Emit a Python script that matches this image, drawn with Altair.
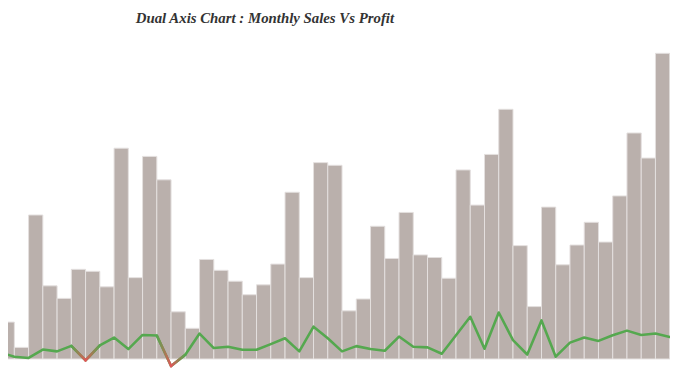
import altair as alt
import pandas as pd

# 48 months (4 years)
months = [f"{y}-{m:02d}" for y in (2011, 2012, 2013, 2014) for m in range(1, 13)]

sales = [3730, 1170, 14570, 7400, 6130, 9070, 8870, 7300,
         21330, 8230, 20500, 18130, 4770, 3100, 10070, 8970,
         7870, 6500, 7500, 9600, 16870, 8230, 19870, 19600,
         4870, 6070, 13430, 10170, 14830, 10530, 10270, 8170,
         19130, 15570, 20700, 25270, 11470, 5300, 15370, 9530,
         11530, 13830, 11830, 16500, 22870, 20330, 30930, 21870]

profit = [680, 220, 100, 950, 770, 1330, -150, 1370,
          2170, 1000, 2430, 2370, -720, 430, 2570, 1100,
          1230, 930, 930, 1500, 2100, 770, 3270, 2100,
          770, 1300, 1000, 830, 2270, 1230, 1170, 530,
          2400, 4270, 1030, 4700, 1900, 450, 3900, 230,
          1650, 2170, 1830, 2400, 2870, 2430, 2570, 2230]

BAR = "#bab0ac"
BAR_STROKE = "#e4e0de"
GREEN = "#55a84f"
RED = "#e15759"

df = pd.DataFrame({"month": months, "idx": list(range(len(months))),
                   "sales": sales, "profit": profit})
df["idx_end"] = df["idx"] + 1

down_rows, up_rows = [], []
for i in range(len(profit) - 1):
    if profit[i + 1] < 0 <= profit[i]:
        for j in (i, i + 1):
            down_rows.append({"seg": i, "idx": j, "profit": profit[j]})
    if profit[i] < 0 <= profit[i + 1]:
        for j in (i, i + 1):
            up_rows.append({"seg": i, "idx": j, "profit": profit[j]})
df_down = pd.DataFrame(down_rows)
df_up = pd.DataFrame(up_rows)

xscale = alt.Scale(domain=[0.555, 47.02], nice=False, zero=False)
yscale = alt.Scale(domain=[-1200, 32300], nice=False, zero=False)

bars = alt.Chart(df).mark_rect(color=BAR, stroke=BAR_STROKE, strokeWidth=1, clip=True).encode(
    x=alt.X("idx:Q", scale=xscale, axis=None),
    x2="idx_end:Q",
    y=alt.Y("sales:Q", scale=yscale, axis=None),
    y2=alt.datum(0),
)

line = alt.Chart(df).mark_line(color=GREEN, strokeWidth=2.6, strokeJoin="round",
                               strokeCap="round", clip=True).encode(
    x=alt.X("idx:Q", scale=xscale, axis=None),
    y=alt.Y("profit:Q", scale=yscale, axis=None),
)

grad_down = alt.Gradient(gradient="linear", x1=0, x2=1, y1=0, y2=0,
                         stops=[alt.GradientStop(color=GREEN, offset=0),
                                alt.GradientStop(color=RED, offset=1)])
grad_up = alt.Gradient(gradient="linear", x1=0, x2=1, y1=0, y2=0,
                       stops=[alt.GradientStop(color=RED, offset=0),
                              alt.GradientStop(color=GREEN, offset=1)])

seg_down = alt.Chart(df_down).mark_line(color=grad_down, strokeWidth=2.6, strokeJoin="round",
                                        strokeCap="round", clip=True).encode(
    x=alt.X("idx:Q", scale=xscale, axis=None),
    y=alt.Y("profit:Q", scale=yscale, axis=None),
    detail="seg:N",
)
seg_up = alt.Chart(df_up).mark_line(color=grad_up, strokeWidth=2.6, strokeJoin="round",
                                    strokeCap="round", clip=True).encode(
    x=alt.X("idx:Q", scale=xscale, axis=None),
    y=alt.Y("profit:Q", scale=yscale, axis=None),
    detail="seg:N",
)

chart = alt.layer(bars, line, seg_down, seg_up).properties(
    width=670,
    height=335,
    autosize=alt.AutoSizeParams(type="none"),
    padding={"left": 0, "top": 30, "right": 0, "bottom": 0},
    title=alt.TitleParams(
        "Dual Axis Chart : Monthly Sales Vs Profit",
        font="Liberation Serif", fontSize=15, fontWeight="bold", fontStyle="italic",
        color="#333333", anchor="middle", dx=-75, offset=14,
    ),
).configure_view(strokeWidth=0)

chart.save("out.html", embed_options={"renderer": "svg", "actions": False})
